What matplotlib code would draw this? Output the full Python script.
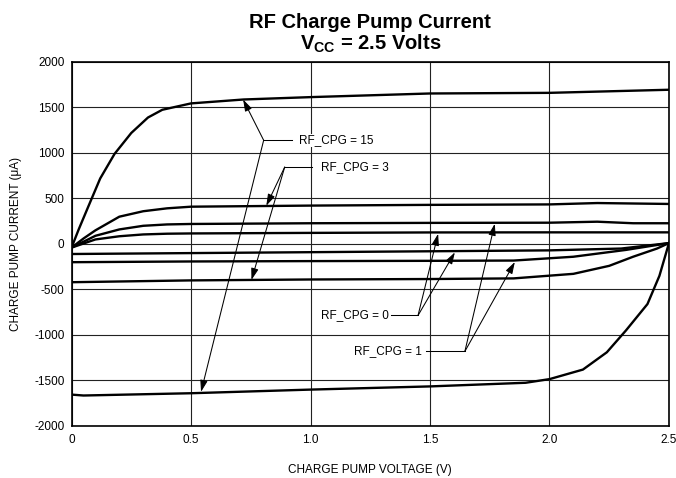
import matplotlib
matplotlib.use("Agg")
import matplotlib.pyplot as plt

plt.rcParams['font.family'] = ['Liberation Sans', 'DejaVu Sans']
plt.rcParams['mathtext.fontset'] = 'custom'
plt.rcParams['mathtext.rm'] = 'Liberation Sans'
plt.rcParams['mathtext.bf'] = 'Liberation Sans:bold'

# curbe (V, uA)
v_15p = [0, 0.03, 0.07, 0.12, 0.18, 0.25, 0.32, 0.38, 0.5, 0.72, 1.0, 1.5, 2.0, 2.5]
i_15p = [-40, 160, 410, 720, 990, 1220, 1390, 1475, 1545, 1588, 1614, 1654, 1661, 1695]

v_3p = [0, 0.05, 0.1, 0.2, 0.3, 0.4, 0.5, 1.0, 1.5, 2.0, 2.2, 2.35, 2.5]
i_3p = [-40, 60, 150, 300, 360, 392, 410, 422, 430, 435, 450, 445, 440]

v_1p = [0, 0.1, 0.2, 0.3, 0.4, 0.5, 1.0, 1.5, 2.0, 2.2, 2.35, 2.5]
i_1p = [-40, 90, 160, 200, 215, 220, 228, 232, 234, 245, 228, 228]

v_0p = [0, 0.1, 0.2, 0.3, 0.4, 0.5, 1.0, 1.5, 2.0, 2.5]
i_0p = [-40, 50, 85, 105, 113, 116, 122, 127, 128, 128]

v_0n = [0, 0.5, 1.0, 1.5, 2.0, 2.3, 2.5]
i_0n = [-110, -100, -90, -80, -70, -50, 10]

v_1n = [0, 0.5, 1.0, 1.5, 1.85, 2.1, 2.32, 2.5]
i_1n = [-200, -192, -188, -185, -182, -140, -65, 10]

v_3n = [0, 0.5, 1.0, 1.5, 1.85, 2.1, 2.25, 2.35, 2.45, 2.5]
i_3n = [-420, -400, -390, -385, -378, -328, -240, -140, -50, 10]

v_15n = [0, 0.05, 0.5, 1.0, 1.5, 1.9, 2.0, 2.14, 2.24, 2.32, 2.41, 2.46, 2.5]
i_15n = [-1655, -1665, -1640, -1600, -1565, -1525, -1485, -1380, -1190, -950, -660, -350, 10]

x_ticks = [0, 0.5, 1.0, 1.5, 2.0, 2.5]
x_labels = ['0', '0.5', '1.0', '1.5', '2.0', '2.5']
y_ticks = [2000, 1500, 1000, 500, 0, -500, -1000, -1500, -2000]
y_labels = [str(t) for t in y_ticks]

curves = [(v_15p, i_15p), (v_3p, i_3p), (v_1p, i_1p), (v_0p, i_0p),
          (v_0n, i_0n), (v_1n, i_1n), (v_3n, i_3n), (v_15n, i_15n)]

# eticheta, x text, aliniere, y, capat linie orizontala, nod, varfuri sageti
labels = [
    ('RF_CPG = 15', 0.952, 'left', 1140, 0.922, 0.804, [(0.718, 1588), (0.542, -1625)]),
    ('RF_CPG = 3', 1.042, 'left', 845, 1.005, 0.892, [(0.815, 420), (0.753, -395)]),
    ('RF_CPG = 0', 1.33, 'right', -785, 1.338, 1.45, [(1.534, 112), (1.604, -92)]),
    ('RF_CPG = 1', 1.466, 'right', -1180, 1.485, 1.646, [(1.771, 222), (1.855, -198)]),
]

fig = plt.figure(figsize=(6.76, 4.78), dpi=100)
ax = fig.add_axes([0.1058, 0.1088, 0.8838, 0.7615])

for v, i in curves:
    ax.plot(v, i, color='black', linewidth=1.7, zorder=3, solid_joinstyle='round')

for text, tx, ha, y, lend, node, tips in labels:
    ax.plot([lend, node], [y, y], color='black', linewidth=0.75, zorder=4)
    for tip in tips:
        ax.annotate('', xy=tip, xytext=(node, y),
                    arrowprops=dict(arrowstyle='-|>,head_length=0.7,head_width=0.22',
                                    color='black', lw=0.75, shrinkA=0, shrinkB=0,
                                    mutation_scale=10), zorder=4)
    ax.text(tx, y, text, ha=ha, va='center', fontsize=8.5, zorder=5,
            bbox=dict(facecolor='white', edgecolor='none', pad=0.5))

ax.set_xlim(0, 2.5)
ax.set_ylim(-2000, 2000)
ax.set_xticks(x_ticks)
ax.set_xticklabels(x_labels)
ax.set_yticks(y_ticks)
ax.set_yticklabels(y_labels)
ax.tick_params(length=0, labelsize=8.5)
ax.tick_params(axis='x', pad=6)
ax.tick_params(axis='y', pad=5)
ax.grid(True, color='#222222', linewidth=0.8)
ax.set_axisbelow(True)
for s in ax.spines.values():
    s.set_linewidth(1.2)

ax.set_xlabel('CHARGE PUMP VOLTAGE (V)', fontsize=8.5, labelpad=13)
ax.set_ylabel('CHARGE PUMP CURRENT (\u03bcA)', fontsize=8.5, labelpad=9)

xc = 0.1058 + 0.8838 / 2
fig.text(xc, 1 - 23 / 478, 'RF Charge Pump Current', ha='center', va='center',
         fontsize=14.5, fontweight='bold')
fig.text(xc, 1 - 44 / 478, r'$\mathbf{V_{CC}}$ = 2.5 Volts', ha='center', va='center',
         fontsize=14.5, fontweight='bold')

fig.savefig('out.png', dpi=100)
